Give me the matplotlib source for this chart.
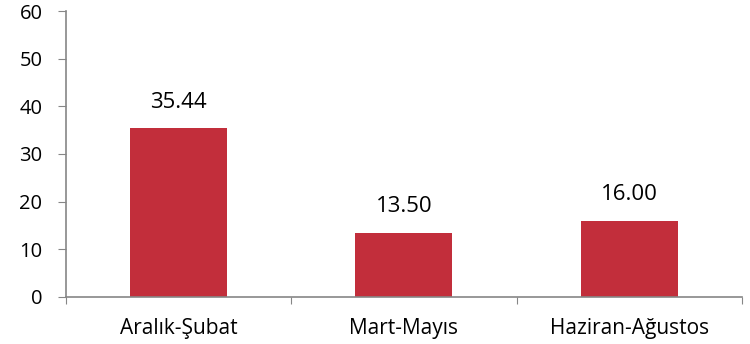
import matplotlib
matplotlib.use('Agg')
import matplotlib.pyplot as plt
import numpy as np

categories = ['Aralık-Şubat', 'Mart-Mayıs', 'Haziran-Ağustos']
values = [35.44, 13.50, 16.00]
value_labels = ['35.44', '13.50', '16.00']

plt.rcParams['font.family'] = ['Open Sans', 'DejaVu Sans']

fig = plt.figure(figsize=(7.5, 3.44), dpi=100)
ax = fig.add_axes([0.088, 0.137, 0.901, 0.831])

x = np.arange(len(categories))
bars = ax.bar(x, values, width=0.43, color='#C22E3B')

# value labels above bars
for b, lab in zip(bars, value_labels):
    ax.annotate(lab, (b.get_x() + b.get_width() / 2, b.get_height()),
                xytext=(0, 11), textcoords='offset points',
                ha='center', va='bottom', fontsize=16, color='black')

ax.set_xlim(-0.5, len(categories) - 0.5)
ax.set_ylim(0, 60)
ax.set_yticks(range(0, 61, 10))
ax.tick_params(axis='y', labelsize=14.5, length=6, color='#868686', pad=11)

# category ticks at boundaries, labels centered
ax.set_xticks(np.arange(-0.5, len(categories), 1.0))
ax.set_xticklabels([])
ax.set_xticks(x, minor=True)
ax.set_xticklabels(categories, minor=True)
ax.tick_params(axis='x', which='major', length=5, color='#868686')
ax.tick_params(axis='x', which='minor', length=0, labelsize=15, pad=15)

for s in ['top', 'right']:
    ax.spines[s].set_visible(False)
for s in ['left', 'bottom']:
    ax.spines[s].set_color('#868686')
    ax.spines[s].set_linewidth(1.2)

fig.savefig('out.png', dpi=100)
